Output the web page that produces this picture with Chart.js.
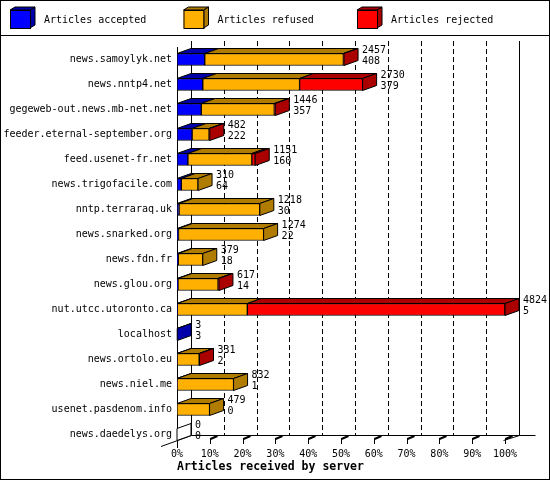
<!DOCTYPE html>
<html>
<head>
<meta charset="utf-8">
<script src="https://cdn.jsdelivr.net/npm/chart.js@4.4.1/dist/chart.umd.min.js"></script>
<style>
  html, body { margin: 0; padding: 0; background: #fff; }
  #box { width: 550px; height: 480px; position: relative; }
</style>
</head>
<body>
<div id="box"><canvas id="grafico"></canvas></div>
<script>
// valores
var servers = ['news.samoylyk.net', 'news.nntp4.net', 'gegeweb-out.news.mb-net.net',
  'feeder.eternal-september.org', 'feed.usenet-fr.net', 'news.trigofacile.com',
  'nntp.terraraq.uk', 'news.snarked.org', 'news.fdn.fr', 'news.glou.org',
  'nut.utcc.utoronto.ca', 'localhost', 'news.ortolo.eu', 'news.niel.me',
  'usenet.pasdenom.info', 'news.daedelys.org'];
var totals   = [2457, 2730, 1446, 482, 1151, 310, 1218, 1274, 379, 617, 4824, 3, 331, 832, 479, 0];
var accepted = [408, 379, 357, 222, 160, 64, 30, 22, 18, 14, 5, 3, 2, 1, 0, 0];
var refused  = [2039, 1424, 1074, 250, 941, 246, 1188, 1252, 361, 590, 1029, 0, 324, 831, 479, 0];
var rejected = [10, 927, 15, 10, 50, 0, 0, 0, 0, 13, 3790, 0, 5, 0, 0, 0];
var pctLabels = ['0%', '10%', '20%', '30%', '40%', '50%', '60%', '70%', '80%', '90%', '100%'];

var maxTotal = Math.max.apply(null, totals);
var DX = 14, DY = 5;
var FONT = "'DejaVu Sans Mono', monospace";

var dark = {
  '#0000ff': '#0000aa',
  '#ffb000': '#b07c00',
  '#ff0000': '#aa0000'
};

function poly(ctx, pts, fill) {
  ctx.beginPath();
  ctx.moveTo(pts[0][0], pts[0][1]);
  for (var i = 1; i < pts.length; i++) ctx.lineTo(pts[i][0], pts[i][1]);
  ctx.closePath();
  ctx.fillStyle = fill;
  ctx.fill();
  ctx.stroke();
}

// pared del fondo, lineas punteadas y marcas del eje
const fondo3d = {
  id: 'fondo3d',
  beforeDatasetsDraw(chart) {
    const ctx = chart.ctx, a = chart.chartArea, xs = chart.scales.x;
    const bTop = a.top - 6, bBot = a.bottom - 12;
    ctx.save();
    ctx.strokeStyle = '#000';
    ctx.lineWidth = 1;
    ctx.setLineDash([5, 3]);
    for (let k = 1; k < 10; k++) {
      const x = Math.round(xs.getPixelForValue(maxTotal * k / 10)) + DX + 0.5;
      ctx.beginPath(); ctx.moveTo(x, bTop); ctx.lineTo(x, bBot); ctx.stroke();
    }
    ctx.setLineDash([]);
    const xl = Math.round(a.left) + DX + 0.5, xr = Math.round(a.right) + DX + 0.5;
    ctx.beginPath();
    ctx.moveTo(xl, bTop); ctx.lineTo(xl, bBot + 0.5);
    ctx.moveTo(xr, bTop); ctx.lineTo(xr, bBot + 0.5);
    ctx.moveTo(xl, bBot + 0.5); ctx.lineTo(xr + 16, bBot + 0.5);
    ctx.moveTo(xl, bBot + 0.5); ctx.lineTo(a.left - 16, bBot + 11.5);
    ctx.moveTo(xr, bBot + 0.5); ctx.lineTo(xr - 16, bBot + 5.5);
    ctx.stroke();
    for (let k = 0; k <= 10; k++) {
      const x = Math.round(xs.getPixelForValue(maxTotal * k / 10)) + 0.5;
      ctx.lineWidth = 1;
      ctx.beginPath(); ctx.moveTo(x, a.bottom - 9); ctx.lineTo(x, a.bottom - 3); ctx.stroke();
      ctx.lineWidth = 2;
      ctx.beginPath(); ctx.moveTo(x, a.bottom - 8); ctx.lineTo(x + 7, a.bottom - 11); ctx.stroke();
    }
    ctx.restore();
  },
  afterDatasetsDraw(chart) {
    const ctx = chart.ctx, xs = chart.scales.x;
    const metas = chart.data.datasets.map((d, i) => chart.getDatasetMeta(i));
    ctx.save();
    ctx.strokeStyle = '#000';
    ctx.lineWidth = 1;
    ctx.lineJoin = 'miter';
    for (let r = 0; r < servers.length; r++) {
      let last = null, top = 0, bot = 0, end = xs.getPixelForValue(0);
      metas.forEach((m, i) => {
        const el = m.data[r];
        const h = el.height;
        top = el.y - h / 2; bot = el.y + h / 2;
        const v = chart.data.datasets[i].data[r];
        if (v > 0) {
          const x0 = Math.min(el.base, el.x), x1 = Math.max(el.base, el.x);
          poly(ctx, [[x0, top], [x1, top], [x1 + DX, top - DY], [x0 + DX, top - DY]],
            dark[chart.data.datasets[i].backgroundColor]);
          last = i; end = x1;
        }
      });
      const sideCol = last === null ? '#ffffff' : dark[chart.data.datasets[last].backgroundColor];
      poly(ctx, [[end, top], [end + DX, top - DY], [end + DX, bot - DY], [end, bot]], sideCol);
      // etiquetas: total y aceptados
      ctx.fillStyle = '#000';
      ctx.font = '10px ' + FONT;
      ctx.textAlign = 'left';
      ctx.textBaseline = 'middle';
      const cy = (top + bot) / 2;
      ctx.fillText(String(totals[r]), end + DX + 4, cy - 9);
      ctx.fillText(String(accepted[r]), end + DX + 4, cy + 2);
    }
    ctx.restore();
  },
  afterDraw(chart) {
    const ctx = chart.ctx;
    ctx.save();
    ctx.strokeStyle = '#000';
    ctx.lineWidth = 1;
    chart.data.datasets.forEach((ds, i) => {
      const x = 10 + i * 173.5, y = 10, w = 20, h = 18;
      poly(ctx, [[x + w, y], [x + w + 5, y - 3], [x + w + 5, y + h - 3], [x + w, y + h]], dark[ds.backgroundColor]);
      poly(ctx, [[x, y], [x + 5, y - 3], [x + w + 5, y - 3], [x + w, y]], dark[ds.backgroundColor]);
      ctx.fillStyle = ds.backgroundColor;
      ctx.fillRect(x, y, w, h);
      ctx.strokeRect(x + 0.5, y + 0.5, w, h);
      ctx.fillStyle = '#000';
      ctx.font = '10px ' + FONT;
      ctx.textBaseline = 'middle';
      ctx.textAlign = 'left';
      ctx.fillText(ds.label, x + 34, y + 10);
    });
    ctx.beginPath();
    ctx.moveTo(0, 35.5); ctx.lineTo(550, 35.5);
    ctx.stroke();
    ctx.strokeRect(0.5, 0.5, 549, 479);
    ctx.restore();
  }
};

const chartData = {
  labels: servers,
  datasets: [
    { label: 'Articles accepted', data: accepted, backgroundColor: '#0000ff' },
    { label: 'Articles refused', data: refused, backgroundColor: '#ffb000' },
    { label: 'Articles rejected', data: rejected, backgroundColor: '#ff0000' }
  ]
};

const options = {
  indexAxis: 'y',
  responsive: true,
  maintainAspectRatio: false,
  animation: false,
  devicePixelRatio: 1,
  layout: { padding: { top: 47, right: 45, left: 0, bottom: 0 } },
  datasets: {
    bar: { barThickness: 12, borderColor: '#000', borderWidth: 1, borderSkipped: false }
  },
  scales: {
    x: {
      stacked: true,
      min: 0,
      max: maxTotal,
      afterBuildTicks: function(scale) {
        scale.ticks = pctLabels.map((t, k) => ({ value: maxTotal * k / 10 }));
      },
      afterFit: function(scale) { scale.height = 33; },
      grid: { display: false, drawTicks: false },
      border: { display: false },
      ticks: {
        color: '#000',
        font: { family: FONT, size: 10 },
        padding: 1,
        maxRotation: 0,
        autoSkip: false,
        callback: function(value, index) { return pctLabels[index]; }
      },
      title: {
        display: true,
        text: 'Articles received by server',
        align: 'start',
        color: '#000',
        font: { family: FONT, size: 11.5, weight: 'bold' },
        padding: { top: 0, bottom: 6 }
      }
    },
    y: {
      stacked: true,
      afterFit: function(scale) { scale.width = 177; },
      grid: { display: false, drawTicks: false },
      border: { display: true, color: '#000', width: 1 },
      ticks: {
        color: '#000',
        font: { family: FONT, size: 10 },
        padding: 5,
        autoSkip: false
      }
    }
  },
  plugins: {
    legend: { display: false },
    tooltip: { enabled: false }
  }
};

new Chart(document.getElementById('grafico'), {
  type: 'bar',
  data: chartData,
  options: options,
  plugins: [fondo3d]
});
</script>
</body>
</html>
